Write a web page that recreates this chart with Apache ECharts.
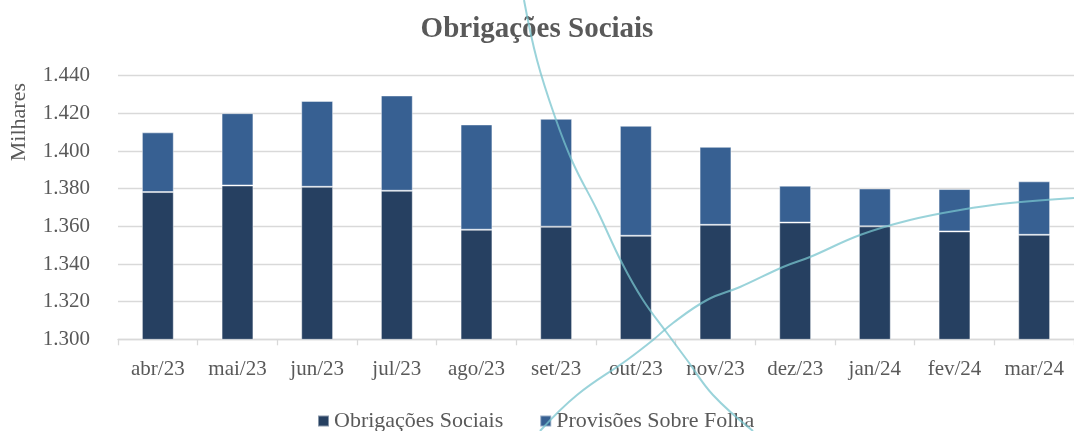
<!DOCTYPE html>
<html><head><meta charset="utf-8">
<script src="https://cdn.jsdelivr.net/npm/echarts@6/dist/echarts.min.js"></script>
<style>html,body{margin:0;padding:0;background:#fff}#c{width:1074px;height:431px}</style>
</head><body><div id="c"></div>
<script>
const categories = ['abr/23','mai/23','jun/23','jul/23','ago/23','set/23','out/23','nov/23','dez/23','jan/24','fev/24','mar/24'];
const obrigacoesSociais = [1378.2,1381.7,1381.0,1378.9,1358.2,1359.8,1355.0,1360.8,1362.0,1360.0,1357.3,1355.5];
const provisoesSobreFolha = [31.7,38.4,45.6,50.6,55.9,57.3,58.4,41.4,19.6,20.1,22.5,28.4];
const yTicks = [1300,1320,1340,1360,1380,1400,1420,1440];

const FONT = '"Liberation Serif", "DejaVu Serif", serif';
const chart = echarts.init(document.getElementById('c'), null, {renderer:'canvas'});
function fmt(v){ return Math.floor(v/1000) + '.' + String(Math.round(v%1000)).padStart(3,'0'); }

// decorative background curves (not data)
const curveA = [[524,0],[537,60],[555,117],[573,163],[597,210],[622,263],[643,300],[667,333],[687,360],[713,395],[753,431]];
const curveB = [[540,431],[577,395],[627,360],[653,340],[673,323],[707,300],[740,287],[783,267],[810,257],[860,235],[910,220],[960,210],[1010,203],[1074,198]];

chart.setOption({
  animation:false,
  title:{text:'Obrigações Sociais', left:'center', top:10,
    textStyle:{fontFamily:FONT, fontSize:29, fontWeight:'bold', color:'#595959'}},
  legend:{top:405, left:312, itemWidth:11, itemHeight:11, itemGap:36, icon:'rect',
    textStyle:{fontFamily:FONT, fontSize:22, color:'#595959'},
    data:['Obrigações Sociais','Provisões Sobre Folha']},
  grid:{left:118, right:-4, top:75.7, bottom:91.7},
  xAxis:{type:'category', data:categories,
    axisLine:{lineStyle:{color:'#d9d9d9', width:1.3}},
    axisTick:{show:true, length:6, lineStyle:{color:'#d9d9d9', width:1.3}},
    axisLabel:{fontFamily:FONT, fontSize:21, color:'#595959', margin:20, interval:0}},
  yAxis:{type:'value', min:1300, max:1440, interval:20,
    axisLine:{show:false}, axisTick:{show:false},
    splitLine:{lineStyle:{color:'#d9d9d9', width:1.3}},
    axisLabel:{fontFamily:FONT, fontSize:21, color:'#595959', margin:28, formatter:fmt}},
  graphic:[
    {type:'text', left:8, top:83, rotation:Math.PI/2,
      style:{text:'Milhares', font:'22px '+FONT, fill:'#595959'}},
    {type:'polyline', z:100, silent:true, shape:{points:curveA, smooth:0.4},
      style:{stroke:'rgba(120,196,206,0.75)', lineWidth:2, fill:null}},
    {type:'polyline', z:100, silent:true, shape:{points:curveB, smooth:0.4},
      style:{stroke:'rgba(120,196,206,0.75)', lineWidth:2, fill:null}}
  ],
  series:[
    {name:'Obrigações Sociais', type:'bar', stack:'t', data:obrigacoesSociais, barWidth:'40%',
      itemStyle:{color:'#264061', borderColor:'rgba(255,255,255,0.45)', borderWidth:1}},
    {name:'Provisões Sobre Folha', type:'bar', stack:'t', data:provisoesSobreFolha, barWidth:'40%',
      itemStyle:{color:'#376092', borderColor:'rgba(255,255,255,0.45)', borderWidth:1}}
  ]
});
</script></body></html>
